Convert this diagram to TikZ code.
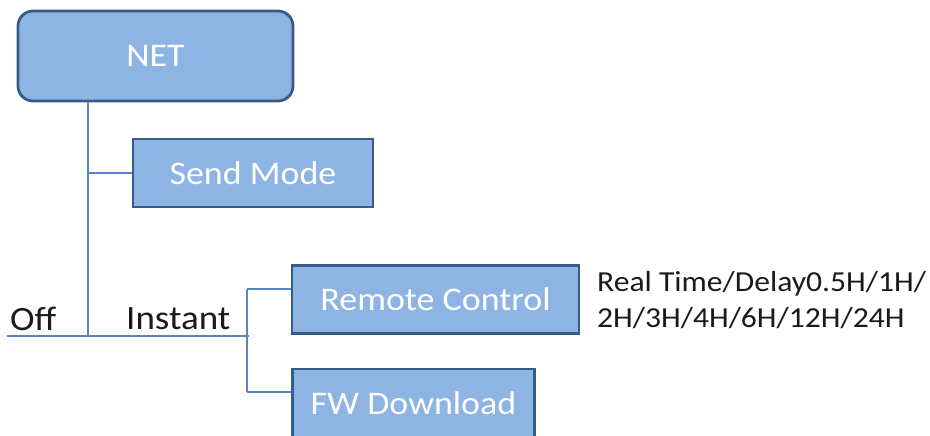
\documentclass[tikz,border=0pt]{standalone}
\usepackage{fontspec}
\setmainfont{Carlito}[FakeStretch=1.09]
\definecolor{boxfill}{HTML}{8EB4E3}
\definecolor{boxline}{HTML}{385C88}
\definecolor{connc}{HTML}{5A85C0}
\definecolor{txt}{HTML}{1A1A1A}
\begin{document}
\begin{tikzpicture}[x=1pt,y=-1pt,
  box/.style={draw=boxline, line width=2.8pt, fill=boxfill, text=white,
    font=\fontsize{33}{36}\selectfont, inner sep=0pt, anchor=center},
  conn/.style={draw=connc, line width=1.5pt},
  lbl/.style={font=\fontsize{34}{36}\selectfont, text=txt, inner sep=0pt, anchor=base west},
  note/.style={font=\fontsize{29}{36}\selectfont, text=txt, inner sep=0pt, anchor=base west, align=left}]
\useasboundingbox (0,0) rectangle (930,436);
% boxes
\node[box, rounded corners=15pt, minimum width=275pt, minimum height=90pt] (net) at (155.5,56) {NET};
\node[box, minimum width=240pt, minimum height=68pt] (send) at (253,173) {Send Mode};
\node[box, minimum width=287pt, minimum height=68pt] (remote) at (435.5,299.5) {Remote Control};
\node[box, minimum width=242pt, minimum height=68pt] (fw) at (413.5,403) {FW Download};
% labels
\node[lbl] (off) at (10,330) {Off};
\node[lbl] (instant) at (126,329) {Instant};
\node[note] (times) at (597,327) {Real Time/Delay0.5H/1H/\\2H/3H/4H/6H/12H/24H};
% connector coordinates
\coordinate (trunk) at (88,336);
\coordinate (lineL) at (7,336);
\coordinate (lineR) at (249,336);
\coordinate (forkTop) at (247,289);
\coordinate (forkBot) at (247,392);
% connectors
\draw[conn] (net.south -| trunk) -- (trunk);
\draw[conn] (send.west -| trunk) -- (send.west);
\draw[conn] (lineL) -- (lineR);
\draw[conn] (forkTop) -- (forkBot);
\draw[conn] (forkTop) -- (forkTop -| remote.west);
\draw[conn] (forkBot) -- (forkBot -| fw.west);
\end{tikzpicture}
\end{document}
